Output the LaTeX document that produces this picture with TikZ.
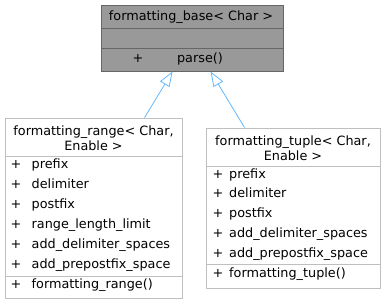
\documentclass[tikz,border=0pt]{standalone}
\usepackage{fontspec}
\setmainfont{DejaVu Sans}
\usetikzlibrary{arrows.meta,calc}
\definecolor{basefill}{HTML}{999999}
\definecolor{baseedge}{HTML}{666666}
\definecolor{boxedge}{HTML}{BFBFBF}
\definecolor{inherit}{HTML}{63B8FF}
\begin{document}
\begin{tikzpicture}[x=1pt,y=-1pt,
  classbox/.style={draw=boxedge,fill=white,line width=0.9pt,inner sep=0pt,rectangle},
  basebox/.style={draw=baseedge,fill=basefill,line width=0.9pt,inner sep=0pt,rectangle},
  txt/.style={font=\fontsize{12.8}{14.7}\selectfont,inner sep=0pt,text=black},
  member/.style={txt,anchor=mid west},
  inh/.style={draw=inherit,line width=0.8pt,-{Triangle[open,length=15pt,width=11pt]}}]
\useasboundingbox (0,0) rectangle (383,304);

% base class
\node[basebox,minimum width=182pt,minimum height=66pt] (base) at (192,38) {};
\draw[baseedge,line width=0.9pt] (101,28.5) -- (283,28.5) (101,48.5) -- (283,48.5);
\node[txt] (basetitle) at (191,17.5) {formatting\_base< Char >};
\node[txt,anchor=mid] (baseplus) at (138,59.5) {+};
\node[txt,anchor=mid] (baseparse) at (200,59.5) {parse()};

% formatting_range
\node[classbox,minimum width=177pt,minimum height=180pt] (range) at (93.5,208) {};
\draw[boxedge,line width=0.9pt] (5,156.5) -- (182,156.5) (5,276.5) -- (182,276.5);
\node[txt,align=center] (rangetitle) at (93.5,138) {formatting\_range< Char,\\Enable >};
\foreach \n/\t/\y in {r1/prefix/166,r2/delimiter/185.5,r3/postfix/205.5,
    r4/range\_length\_limit/225.5,r5/add\_delimiter\_spaces/245.5,
    r6/add\_prepostfix\_space/265.5,r7/formatting\_range()/285.5}{
  \node[txt,anchor=mid] (\n p) at (16,\y) {+};
  \node[member] (\n) at (31.5,\y) {\t};
}

% formatting_tuple
\node[classbox,minimum width=174pt,minimum height=160pt] (tuple) at (293,208) {};
\draw[boxedge,line width=0.9pt] (206,166) -- (380,166) (206,264.5) -- (380,264.5);
\node[txt,align=center] (tupletitle) at (293,148.5) {formatting\_tuple< Char,\\Enable >};
\foreach \n/\t/\y in {t1/prefix/175.5,t2/delimiter/195,t3/postfix/215,
    t4/add\_delimiter\_spaces/235,t5/add\_prepostfix\_space/254.5,
    t6/formatting\_tuple()/274.5}{
  \node[txt,anchor=mid] (\n p) at (218,\y) {+};
  \node[member] (\n) at (229,\y) {\t};
}

% inheritance
\draw[inh] ($(range.north west)+(140,0)$) -- ($(base.south west)+(72,0)$);
\draw[inh] ($(tuple.north west)+(39,0)$) -- ($(base.south west)+(110,0)$);
\end{tikzpicture}
\end{document}
